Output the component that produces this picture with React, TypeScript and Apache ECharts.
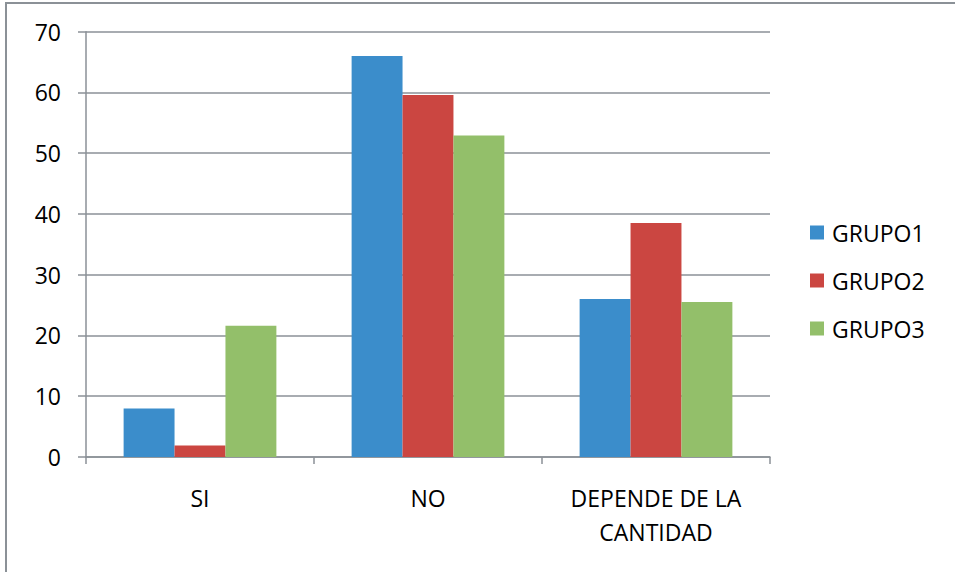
import React, { useEffect, useRef } from "react";
import * as echarts from "echarts";

const categories = ["SI", "NO", "DEPENDE DE LA\nCANTIDAD"];
const grupo1 = [8, 66, 26];
const grupo2 = [1.9, 59.6, 38.5];
const grupo3 = [21.6, 52.9, 25.5];
const seriesNames = ["GRUPO1", "GRUPO2", "GRUPO3"];
const colors = ["#3b8dcb", "#cb4641", "#93bf6a"];

const FONT = "'Open Sans', 'Noto Sans', sans-serif";

export default function App() {
  const ref = useRef<HTMLDivElement>(null);
  useEffect(() => {
    if (!ref.current) return;
    const chart = echarts.init(ref.current, undefined, { renderer: "svg" });
    const gridColor = "#8b9197";
    const data = [grupo1, grupo2, grupo3];
    chart.setOption({
      animation: false,
      backgroundColor: "#ffffff",
      textStyle: { fontFamily: FONT },
      grid: { left: 86, right: 185, top: 31.7, bottom: 115, containLabel: false },
      legend: {
        orient: "vertical",
        left: 810,
        top: 221,
        padding: 0,
        itemWidth: 14,
        itemHeight: 14,
        itemGap: 25,
        icon: "rect",
        textStyle: { fontFamily: FONT, fontSize: 23, color: "#000", padding: [0, 0, 0, 3] },
        data: seriesNames,
      },
      xAxis: {
        type: "category",
        data: categories,
        axisLine: { lineStyle: { color: gridColor, width: 1.5 } },
        axisTick: { show: true, length: 7, inside: false, lineStyle: { color: gridColor, width: 1.5 } },
        axisLabel: {
          fontFamily: FONT,
          fontSize: 23,
          color: "#000",
          margin: 24,
          lineHeight: 34,
          interval: 0,
        },
      },
      yAxis: {
        type: "value",
        min: 0,
        max: 70,
        interval: 10,
        axisLine: { show: true, lineStyle: { color: gridColor, width: 1.5 } },
        axisTick: { show: true, length: 8, lineStyle: { color: gridColor, width: 1.5 } },
        splitLine: { show: true, lineStyle: { color: gridColor, width: 1.5 } },
        axisLabel: { fontFamily: FONT, fontSize: 23, color: "#000", margin: 25 },
      },
      series: seriesNames.map((name, i) => ({
        name,
        type: "bar",
        data: data[i],
        barGap: "0%",
        barCategoryGap: "33%",
        itemStyle: { color: colors[i] },
      })),
      graphic: [
        {
          type: "rect",
          shape: { x: 6, y: 3, width: 1200, height: 1200 },
          style: { fill: "none", stroke: "#8b9197", lineWidth: 2 },
          silent: true,
          z: 100,
        },
      ],
    });
    return () => chart.dispose();
  }, []);
  return (
    <div
      ref={ref}
      style={{ position: "absolute", left: 0, top: 0, width: 955, height: 572 }}
    />
  );
}
